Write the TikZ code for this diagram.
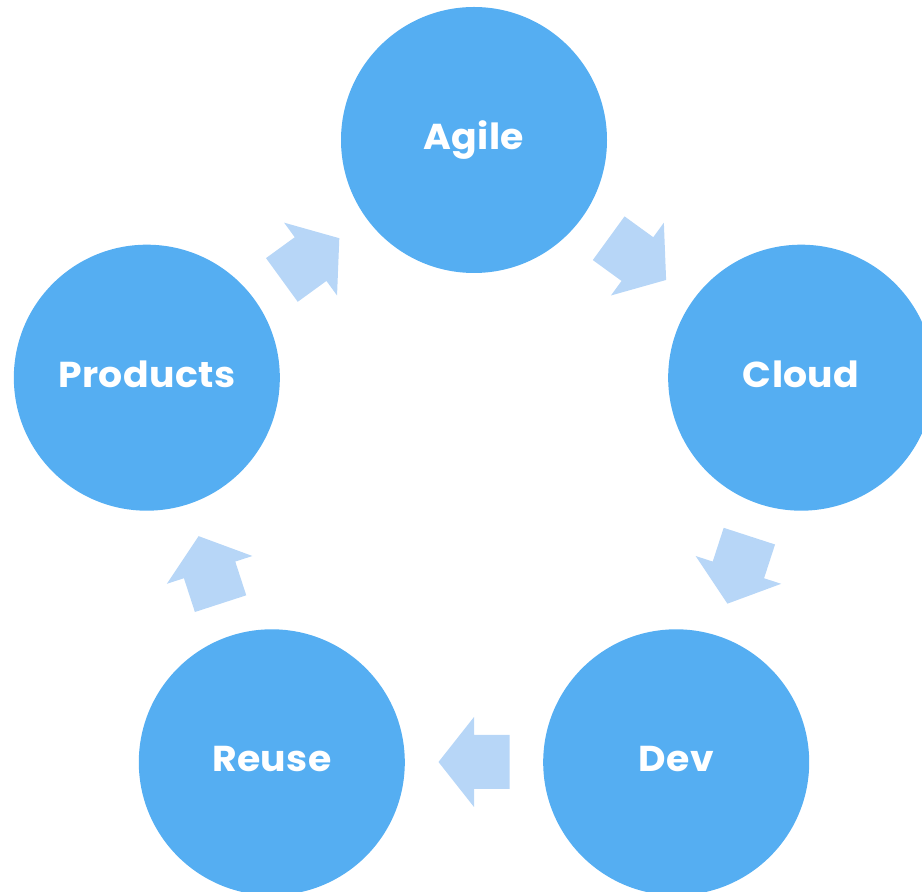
\documentclass[tikz,border=0pt]{standalone}
\usepackage{fontspec}
\setmainfont{Poppins}
\newfontfamily\labfont{Poppins}[FakeStretch=1.05, LetterSpace=1]
\usetikzlibrary{calc}
\definecolor{circc}{RGB}{85,174,242}
\definecolor{arrc}{RGB}{183,214,247}
\tikzset{
  x=1pt, y=1pt,
  bub/.style={circle, fill=circc, minimum size=266pt, inner sep=0pt,
    text=white, font=\labfont\fontsize{36}{36}\selectfont\bfseries,
    text height=25pt, text depth=6pt},
  blockarrow/.pic={\fill[arrc] (-35.5,-27) -- (0,-27) -- (0,-45) -- (35.5,0)
     -- (0,45) -- (0,27) -- (-35.5,27) -- cycle;}
}
\begin{document}
\begin{tikzpicture}
\useasboundingbox (0,0) rectangle (922,892);
\clip (0,0) rectangle (922,892);
\coordinate (c) at (474,408);
\node[bub] (agile) at ($(c)+(90:344)$) {Agile};
\node[bub] (cloud) at ($(c)+(18:344)$) {Cloud};
\node[bub] (dev) at ($(c)+(-54:344)$) {Dev};
\node[bub] (reuse) at ($(c)+(-126:344)$) {Reuse};
\node[bub] (prod) at ($(c)+(162:344)$) {Products};
\coordinate (a1) at ($(c)+(54:278)$);
\coordinate (a2) at ($(c)+(-18:278)$);
\coordinate (a3) at ($(c)+(-90:278)$);
\coordinate (a4) at ($(c)+(-162:278)$);
\coordinate (a5) at ($(c)+(126:278)$);
\pic[rotate=-36] at (a1) {blockarrow};
\pic[rotate=-108] at (a2) {blockarrow};
\pic[rotate=180] at (a3) {blockarrow};
\pic[rotate=108] at (a4) {blockarrow};
\pic[rotate=36] at (a5) {blockarrow};
\end{tikzpicture}
\end{document}
